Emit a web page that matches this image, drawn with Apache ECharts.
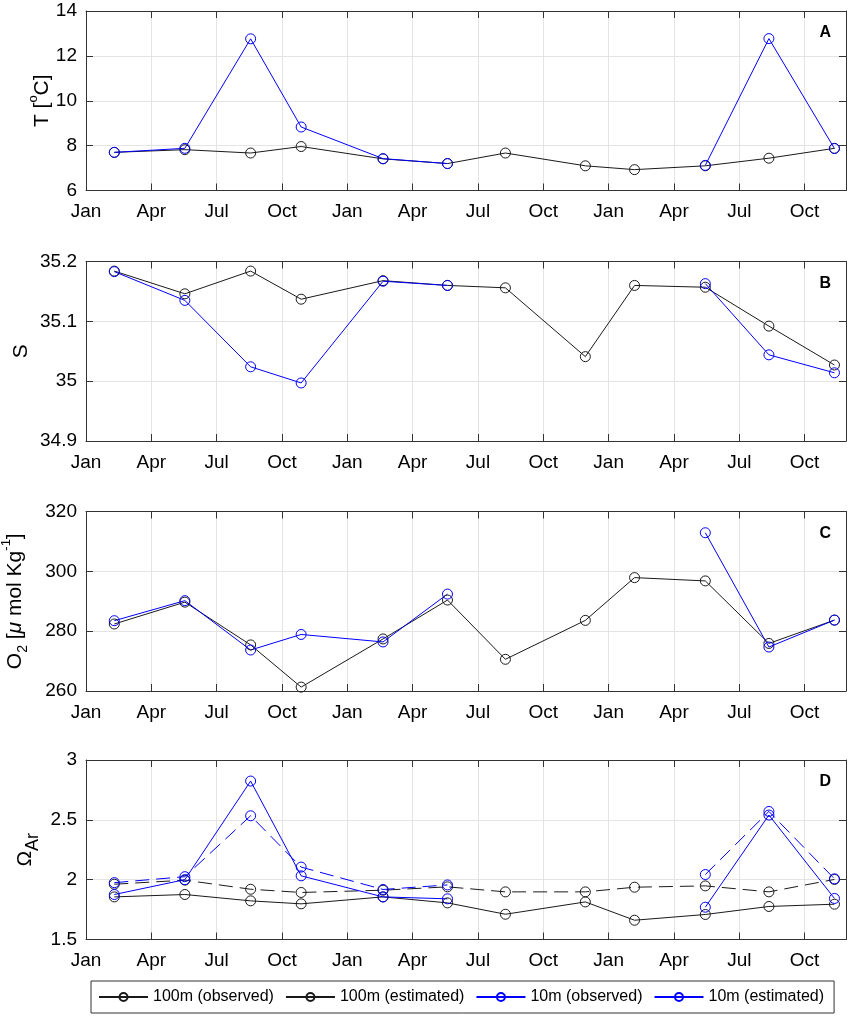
<!DOCTYPE html>
<html><head><meta charset="utf-8">
<script src="https://cdn.jsdelivr.net/npm/echarts@6/dist/echarts.min.js"></script>
<style>html,body{margin:0;padding:0;background:#fff}#c{width:851px;height:1020px}</style>
</head><body><div id="c"></div>
<script>
// sampling times, in months since 1 January of the first year
const sampleMonths = [1.30, 4.54, 7.56, 9.88, 13.64, 16.60, 19.26, 22.93, 25.19, 28.44, 31.36, 34.37];
const monthTicks = ['Jan', 'Apr', 'Jul', 'Oct'];
const panelLetters = ['A', 'B', 'C', 'D'];
const seriesNames = ['100m (observed)', '100m (estimated)', '10m (observed)', '10m (estimated)'];

// A: temperature
const temp100Obs = [7.70, 7.82, 7.67, 7.96, 7.41, 7.20, 7.67, 7.10, 6.93, 7.10, 7.44, 7.88];
const temp10Obs  = [7.70, 7.88, 12.76, 8.83, 7.42, 7.20, null, null, null, 7.12, 12.77, 7.87];
// B: salinity
const sal100Obs = [35.184, 35.146, 35.184, 35.137, 35.168, 35.160, 35.156, 35.041, 35.160, 35.157, 35.092, 35.027];
const sal10Obs  = [35.183, 35.135, 35.024, 34.997, 35.167, 35.160, null, null, null, 35.163, 35.044, 35.014];
// C: oxygen
const oxy100Obs = [282.4, 289.7, 275.4, 261.3, 277.4, 290.4, 270.6, 283.6, 297.9, 296.8, 275.9, 283.7];
const oxy10Obs  = [283.5, 290.2, 273.7, 278.9, 276.4, 292.4, null, null, null, 312.9, 274.7, 283.7];
// D: aragonite saturation
const omega100Obs = [1.856, 1.876, 1.823, 1.798, 1.856, 1.806, 1.711, 1.814, 1.661, 1.709, 1.776, 1.795];
const omega100Est = [1.962, 1.996, 1.920, 1.893, 1.912, 1.940, 1.898, 1.898, 1.937, 1.948, 1.898, 2.002];
const omega10Obs  = [1.876, 2.000, 2.824, 2.032, 1.856, 1.840, null, null, null, 1.770, 2.540, 1.843];
const omega10Est  = [1.975, 2.025, 2.534, 2.105, 1.918, 1.956, null, null, null, 2.043, 2.570, 2.007];

// y-axis ranges
const yMins = [6, 34.9, 260, 1.5];
const yMaxs = [14, 35.2, 320, 3];
const yIntervals = [2, 0.1, 20, 0.5];

const FONT = '"Liberation Sans", Arial, Helvetica, sans-serif';
const gridTops = [11, 261.5, 511.5, 760];
const gridH = 179.5;
const frameColor = '#333';
const gridColor = '#e4e4e4';

const yNames = [
  'T [{sup|o}C]',
  'S',
  'O{sub|2} [{it|μ} mol Kg{sup|-1}]',
  'Ω{subL|Ar}'
];
const yNameGaps = [29, 50, 56, 44];

const chart = echarts.init(document.getElementById('c'), null, {renderer: 'canvas'});

const grids = [], xAxes = [], yAxes = [], series = [], titles = [];
for (let i = 0; i < 4; i++) {
  grids.push({left: 86, right: 5, top: gridTops[i], height: gridH, containLabel: false, outerBoundsMode: 'none'});
  xAxes.push({
    type: 'value', gridIndex: i, min: 0, max: 34.9, interval: 3, position: 'bottom',
    axisLine: {show: true, onZero: false, lineStyle: {color: frameColor, width: 1}},
    axisTick: {show: true, inside: true, length: 7, lineStyle: {color: frameColor}},
    axisLabel: {
      show: true, margin: 12, color: '#000', fontSize: 19, fontFamily: FONT,
      formatter: v => (Math.abs(v / 3 - Math.round(v / 3)) < 1e-6 && v <= 33.01) ? monthTicks[Math.round(v / 3) % 4] : ''
    },
    splitLine: {show: true, lineStyle: {color: gridColor, width: 1}}
  });
  xAxes.push({
    type: 'value', gridIndex: i, min: 0, max: 34.9, interval: 3, position: 'top',
    axisLine: {show: true, onZero: false, lineStyle: {color: frameColor, width: 1}},
    axisTick: {show: true, inside: true, length: 7, lineStyle: {color: frameColor}},
    axisLabel: {show: false}, splitLine: {show: false}
  });
  yAxes.push({
    type: 'value', gridIndex: i, min: yMins[i], max: yMaxs[i], interval: yIntervals[i], position: 'left',
    name: yNames[i], nameLocation: 'middle', nameGap: yNameGaps[i], nameRotate: 90, nameMoveOverlap: false,
    nameTextStyle: {
      color: '#000', fontSize: 21, fontFamily: FONT, lineHeight: 30,
      rich: {
        sup: {fontSize: 13, fontFamily: FONT, color: '#000', verticalAlign: 'top', lineHeight: 30},
        sub: {fontSize: 14, fontFamily: FONT, color: '#000', verticalAlign: 'bottom', lineHeight: 30},
        subL: {fontSize: 18, fontFamily: FONT, color: '#000', verticalAlign: 'bottom', lineHeight: 34},
        it: {fontSize: 21, fontStyle: 'italic', fontFamily: FONT, color: '#000'}
      }
    },
    axisLine: {show: true, onZero: false, lineStyle: {color: frameColor, width: 1}},
    axisTick: {show: true, inside: true, length: 7, lineStyle: {color: frameColor}},
    axisLabel: {show: true, margin: 9, color: '#000', fontSize: 19, fontFamily: FONT},
    splitLine: {show: true, lineStyle: {color: gridColor, width: 1}}
  });
  yAxes.push({
    type: 'value', gridIndex: i, min: yMins[i], max: yMaxs[i], interval: yIntervals[i], position: 'right',
    axisLine: {show: true, onZero: false, lineStyle: {color: frameColor, width: 1}},
    axisTick: {show: true, inside: true, length: 7, lineStyle: {color: frameColor}},
    axisLabel: {show: false}, splitLine: {show: false}
  });
  titles.push({
    text: panelLetters[i], right: 15, top: gridTops[i] + 9,
    textStyle: {fontSize: 16, fontWeight: 'bold', color: '#000', fontFamily: FONT}
  });
}

function mk(name, values, panel, color, dashed) {
  return {
    type: 'line', name: name, xAxisIndex: panel * 2, yAxisIndex: panel * 2,
    data: sampleMonths.map((m, k) => [m, values[k] === null ? '-' : values[k]]),
    symbol: 'circle', symbolSize: 10, showSymbol: true, connectNulls: false,
    itemStyle: {color: 'rgba(255,255,255,0)', borderColor: color, borderWidth: 1},
    lineStyle: {color: color, width: 1, type: dashed ? [14, 7] : 'solid'},
    emphasis: {disabled: true}, animation: false
  };
}
const BLACK = '#1a1a1a', BLUE = '#0000ff';
series.push(mk(seriesNames[0], temp100Obs, 0, BLACK, false));
series.push(mk(seriesNames[2], temp10Obs, 0, BLUE, false));
series.push(mk(seriesNames[0], sal100Obs, 1, BLACK, false));
series.push(mk(seriesNames[2], sal10Obs, 1, BLUE, false));
series.push(mk(seriesNames[0], oxy100Obs, 2, BLACK, false));
series.push(mk(seriesNames[2], oxy10Obs, 2, BLUE, false));
series.push(mk(seriesNames[0], omega100Obs, 3, BLACK, false));
series.push(mk(seriesNames[1], omega100Est, 3, BLACK, true));
series.push(mk(seriesNames[2], omega10Obs, 3, BLUE, false));
series.push(mk(seriesNames[3], omega10Est, 3, BLUE, true));

chart.setOption({
  animation: false,
  backgroundColor: '#fff',
  title: titles,
  grid: grids,
  xAxis: xAxes,
  yAxis: yAxes,
  legend: {
    data: seriesNames.map(n => ({name: n, lineStyle: {type: 'solid'}})),
    left: 91, top: 981, orient: 'horizontal',
    padding: [8, 10, 8, 7], itemGap: 11, itemWidth: 49, itemHeight: 10,
    borderColor: frameColor, borderWidth: 1, selectedMode: false,
    textStyle: {fontSize: 16, color: '#000', fontFamily: FONT}
  },
  series: series
});
</script></body></html>
